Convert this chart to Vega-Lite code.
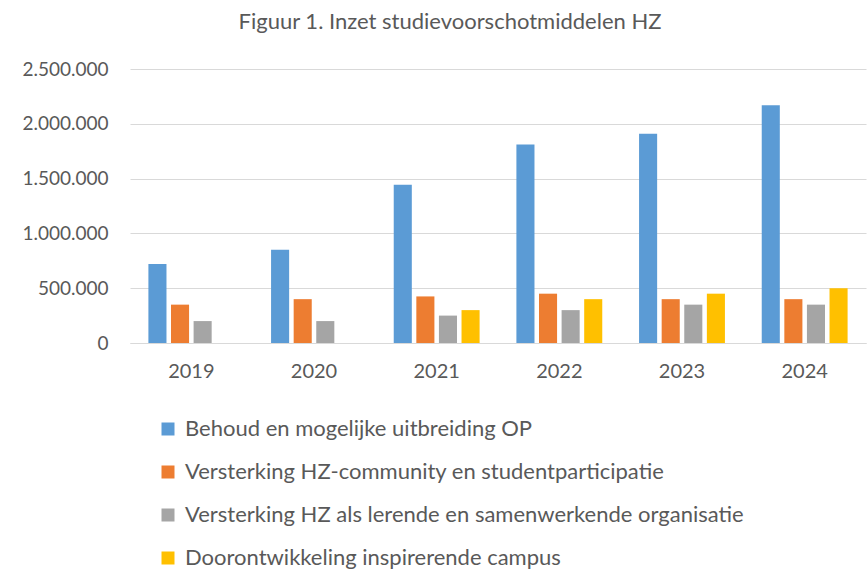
{
  "$schema": "https://vega.github.io/schema/vega-lite/v6.json",
  "width": 736,
  "height": 274,
  "autosize": {"type": "none"},
  "padding": {"left": 130, "top": 69, "right": 1, "bottom": 232},
  "background": "white",
  "title": {
    "text": "Figuur 1. Inzet studievoorschotmiddelen HZ",
    "font": "Lato",
    "fontSize": 22,
    "fontWeight": "normal",
    "color": "#595959",
    "anchor": "middle",
    "dx": -48,
    "offset": 26
  },
  "config": {
    "locale": {"number": {"decimal": ",", "thousands": ".", "grouping": [3], "currency": ["€", ""]}},
    "view": {"stroke": null},
    "font": "Lato"
  },
  "data": {
    "values": [
      {"jaar": "2019", "categorie": "Behoud en mogelijke uitbreiding OP", "bedrag": 720000},
      {"jaar": "2019", "categorie": "Versterking HZ-community en studentparticipatie", "bedrag": 350000},
      {"jaar": "2019", "categorie": "Versterking HZ als lerende en samenwerkende organisatie", "bedrag": 200000},
      {"jaar": "2020", "categorie": "Behoud en mogelijke uitbreiding OP", "bedrag": 850000},
      {"jaar": "2020", "categorie": "Versterking HZ-community en studentparticipatie", "bedrag": 400000},
      {"jaar": "2020", "categorie": "Versterking HZ als lerende en samenwerkende organisatie", "bedrag": 200000},
      {"jaar": "2021", "categorie": "Behoud en mogelijke uitbreiding OP", "bedrag": 1445000},
      {"jaar": "2021", "categorie": "Versterking HZ-community en studentparticipatie", "bedrag": 425000},
      {"jaar": "2021", "categorie": "Versterking HZ als lerende en samenwerkende organisatie", "bedrag": 250000},
      {"jaar": "2021", "categorie": "Doorontwikkeling inspirerende campus", "bedrag": 300000},
      {"jaar": "2022", "categorie": "Behoud en mogelijke uitbreiding OP", "bedrag": 1810000},
      {"jaar": "2022", "categorie": "Versterking HZ-community en studentparticipatie", "bedrag": 450000},
      {"jaar": "2022", "categorie": "Versterking HZ als lerende en samenwerkende organisatie", "bedrag": 300000},
      {"jaar": "2022", "categorie": "Doorontwikkeling inspirerende campus", "bedrag": 400000},
      {"jaar": "2023", "categorie": "Behoud en mogelijke uitbreiding OP", "bedrag": 1910000},
      {"jaar": "2023", "categorie": "Versterking HZ-community en studentparticipatie", "bedrag": 400000},
      {"jaar": "2023", "categorie": "Versterking HZ als lerende en samenwerkende organisatie", "bedrag": 350000},
      {"jaar": "2023", "categorie": "Doorontwikkeling inspirerende campus", "bedrag": 450000},
      {"jaar": "2024", "categorie": "Behoud en mogelijke uitbreiding OP", "bedrag": 2170000},
      {"jaar": "2024", "categorie": "Versterking HZ-community en studentparticipatie", "bedrag": 400000},
      {"jaar": "2024", "categorie": "Versterking HZ als lerende en samenwerkende organisatie", "bedrag": 350000},
      {"jaar": "2024", "categorie": "Doorontwikkeling inspirerende campus", "bedrag": 500000}
    ]
  },
  "mark": {"type": "bar"},
  "encoding": {
    "x": {
      "field": "jaar",
      "type": "nominal",
      "scale": {"paddingInner": 0.3, "paddingOuter": 0.15},
      "axis": {
        "title": null,
        "labelAngle": 0,
        "labelFontSize": 20,
        "labelColor": "#595959",
        "labelPadding": 18,
        "ticks": false,
        "domainColor": "#D9D9D9",
        "domainWidth": 1
      }
    },
    "xOffset": {
      "field": "categorie",
      "type": "nominal",
      "sort": [
        "Behoud en mogelijke uitbreiding OP",
        "Versterking HZ-community en studentparticipatie",
        "Versterking HZ als lerende en samenwerkende organisatie",
        "Doorontwikkeling inspirerende campus"
      ],
      "scale": {"paddingInner": 0.2, "paddingOuter": 0}
    },
    "y": {
      "field": "bedrag",
      "type": "quantitative",
      "scale": {"domain": [0, 2500000]},
      "axis": {
        "title": null,
        "values": [0, 500000, 1000000, 1500000, 2000000, 2500000],
        "format": ",d",
        "labelFontSize": 19,
        "labelColor": "#595959",
        "labelPadding": 22,
        "ticks": false,
        "domain": false,
        "gridColor": "#D9D9D9",
        "gridWidth": 1
      }
    },
    "color": {
      "field": "categorie",
      "type": "nominal",
      "sort": [
        "Behoud en mogelijke uitbreiding OP",
        "Versterking HZ-community en studentparticipatie",
        "Versterking HZ als lerende en samenwerkende organisatie",
        "Doorontwikkeling inspirerende campus"
      ],
      "scale": {
        "domain": [
          "Behoud en mogelijke uitbreiding OP",
          "Versterking HZ-community en studentparticipatie",
          "Versterking HZ als lerende en samenwerkende organisatie",
          "Doorontwikkeling inspirerende campus"
        ],
        "range": ["#5B9BD5", "#ED7D31", "#A5A5A5", "#FFC000"]
      },
      "legend": {
        "title": null,
        "orient": "none",
        "direction": "vertical",
        "legendX": 27,
        "legendY": 349,
        "symbolType": "square",
        "symbolSize": 169,
        "symbolStrokeWidth": 0,
        "symbolOpacity": 1,
        "labelFontSize": 22,
        "labelColor": "#595959",
        "labelOffset": 6,
        "labelLimit": 700,
        "rowPadding": 21
      }
    }
  }
}
